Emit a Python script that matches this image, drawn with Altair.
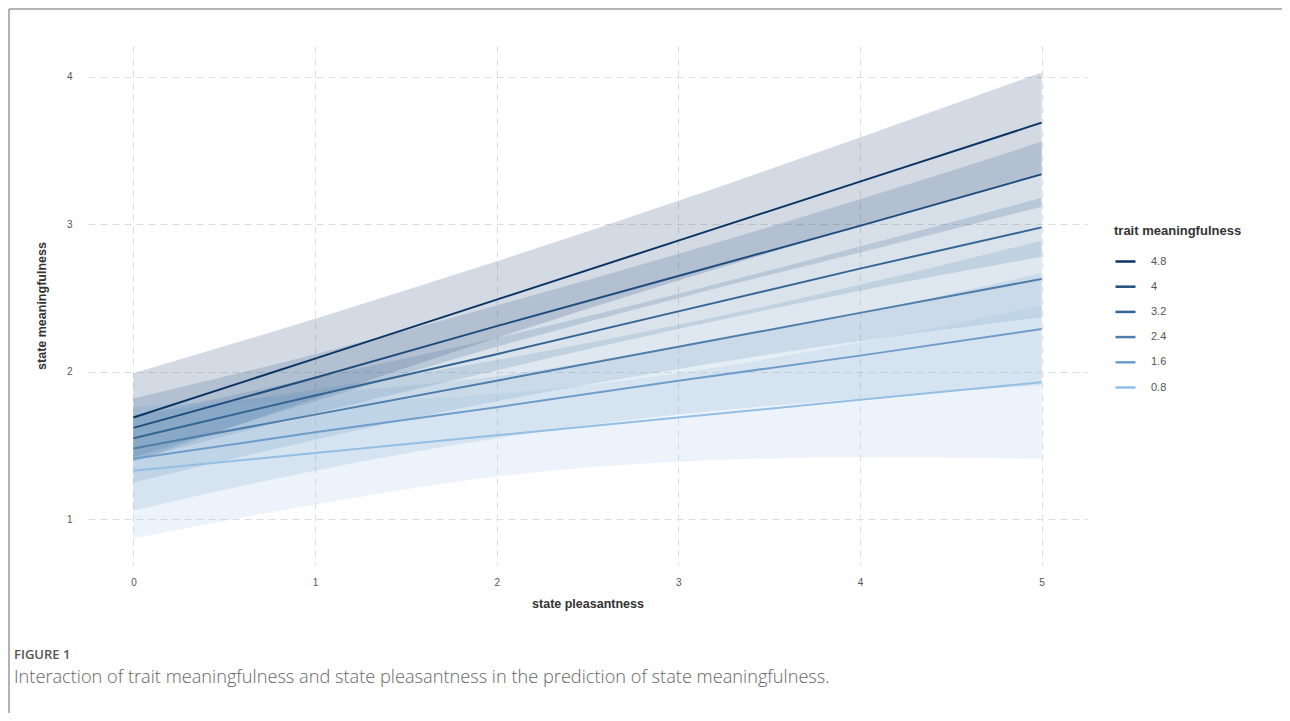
import altair as alt
import pandas as pd

# ---- data ----
levels = ["4.8", "4", "3.2", "2.4", "1.6", "0.8"]
xs = [0, 1, 2, 3, 4, 5]

# predicted state meaningfulness (line) per trait level
fit = {
    "4.8": [1.69, 2.09, 2.49, 2.89, 3.29, 3.69],
    "4":   [1.62, 1.96, 2.31, 2.65, 2.99, 3.34],
    "3.2": [1.55, 1.84, 2.12, 2.41, 2.70, 2.98],
    "2.4": [1.48, 1.71, 1.94, 2.17, 2.40, 2.63],
    "1.6": [1.41, 1.59, 1.76, 1.94, 2.11, 2.29],
    "0.8": [1.33, 1.45, 1.57, 1.69, 1.81, 1.93],
}
# confidence band edges
lower = {
    "4.8": [1.39, 1.82, 2.23, 2.62, 2.99, 3.35],
    "4":   [1.42, 1.80, 2.17, 2.50, 2.81, 3.12],
    "3.2": [1.40, 1.72, 2.01, 2.29, 2.55, 2.78],
    "2.4": [1.25, 1.54, 1.80, 2.02, 2.21, 2.37],
    "1.6": [1.06, 1.33, 1.55, 1.71, 1.82, 1.91],
    "0.8": [0.87, 1.10, 1.29, 1.39, 1.42, 1.41],
}
upper = {
    "4.8": [1.99, 2.36, 2.75, 3.16, 3.59, 4.03],
    "4":   [1.82, 2.12, 2.45, 2.80, 3.17, 3.56],
    "3.2": [1.70, 1.96, 2.23, 2.53, 2.85, 3.18],
    "2.4": [1.71, 1.88, 2.08, 2.32, 2.59, 2.89],
    "1.6": [1.76, 1.85, 1.97, 2.17, 2.40, 2.67],
    "0.8": [1.79, 1.80, 1.85, 1.99, 2.20, 2.45],
}
colors = ["#0b3463", "#1f4d7d", "#346593", "#4f7eab", "#6f9dca", "#93bfe5"]
x_ticks = [0, 1, 2, 3, 4, 5]
y_ticks = [1, 2, 3, 4]
caption_label = "FIGURE 1"
caption_text = "Interaction of trait meaningfulness and state pleasantness in the prediction of state meaningfulness."

rows = []
for lv in levels:
    for i, x in enumerate(xs):
        rows.append({"x": x, "fit": fit[lv][i], "lo": lower[lv][i], "hi": upper[lv][i], "level": lv})
df = pd.DataFrame(rows)

W, H = 999, 519
xscale = alt.Scale(domain=[-0.25, 5.25], nice=False, zero=False)
yscale = alt.Scale(domain=[0.69, 4.21], nice=False, zero=False)

xaxis = alt.Axis(values=x_ticks, format="d", title="state pleasantness", labelPadding=12,
                 titlePadding=10)
yaxis = alt.Axis(values=y_ticks, format="d", title="state meaningfulness", labelPadding=16,
                 titlePadding=18)

bands = alt.Chart(df).mark_area(opacity=0.18, interpolate="monotone").encode(
    x=alt.X("x:Q", scale=xscale, axis=xaxis),
    y=alt.Y("lo:Q", scale=yscale, axis=yaxis),
    y2="hi:Q",
    fill=alt.Fill("level:N", scale=alt.Scale(domain=levels, range=colors), legend=None),
    detail="level:N",
)

lines = alt.Chart(df).mark_line(strokeWidth=2).encode(
    x=alt.X("x:Q", scale=xscale),
    y=alt.Y("fit:Q", scale=yscale),
    color=alt.Color("level:N", scale=alt.Scale(domain=levels, range=colors),
                    sort=levels,
                    legend=alt.Legend(title="trait meaningfulness", orient="none",
                                      legendX=1026, legendY=179)),
)

one = pd.DataFrame({"k": [0]})
top_border = alt.Chart(one).mark_rule(color="#9a9a9a", strokeWidth=1.5).encode(
    x=alt.value(-79), x2=alt.value(1202), y=alt.value(-37))
left_border = alt.Chart(one).mark_rule(color="#9a9a9a", strokeWidth=1.5).encode(
    x=alt.value(-79), y=alt.value(-37), y2=alt.value(675))

cap1 = alt.Chart(pd.DataFrame({"t": [caption_label]})).mark_text(
    align="left", baseline="middle", font="Open Sans", fontSize=13, fontWeight=600,
    color="#555555").encode(x=alt.value(-74), y=alt.value(609), text="t:N")
cap2 = alt.Chart(pd.DataFrame({"t": [caption_text]})).mark_text(
    align="left", baseline="middle", font="Open Sans", fontSize=18.2, fontWeight=300,
    color="#666666").encode(x=alt.value(-74), y=alt.value(632), text="t:N")

chart = alt.layer(bands, lines, top_border, left_border, cap1, cap2).resolve_scale(
    color="independent", fill="independent"
).properties(
    width=W, height=H,
    autosize=alt.AutoSizeParams(type="none"),
    padding={"left": 80, "top": 38, "right": 195, "bottom": 148},
).configure_view(stroke=None).configure_axis(
    domain=False, ticks=False, grid=True, gridDash=[7, 5], gridColor="#dedede",
    gridWidth=1,
    labelFont="Liberation Sans", labelFontSize=10, labelColor="#555555",
    titleFont="Liberation Sans", titleFontSize=12.5, titleFontWeight="bold",
    titleColor="#333333",
).configure_legend(
    titleFont="Liberation Sans", titleFontSize=13, titleFontWeight="bold",
    titleColor="#333333", titlePadding=12,
    labelFont="Liberation Sans", labelFontSize=11, labelColor="#555555",
    symbolType="stroke", symbolSize=400, symbolStrokeWidth=2.5, rowPadding=8.2,
    labelOffset=14,
)

chart.save("out.html", embed_options={"renderer": "svg", "actions": False})
